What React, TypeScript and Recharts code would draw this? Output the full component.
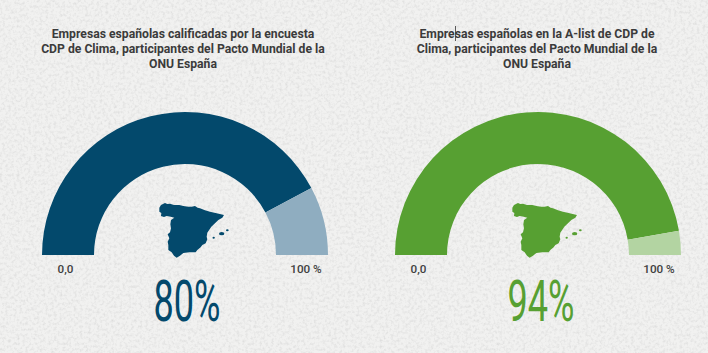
import React from "react";
import { PieChart, Pie, Cell } from "recharts";

const segments = ["Calificadas", "Resto"];
const leftValues = [84.5, 15.5];
const rightValues = [94.6, 5.4];
const leftColors = ["#03496c", "#8fadc0"];
const rightColors = ["#57a032", "#b3d4a2"];
const leftTitle = [
  "Empresas españolas calificadas por la encuesta",
  "CDP de Clima, participantes del Pacto Mundial de la",
  "ONU España",
];
const rightTitle = [
  "Empresas españolas en la A-list de CDP de",
  "Clima, participantes del Pacto Mundial de la",
  "ONU España",
];
const scaleMin = "0,0";
const scaleMax = "100 %";
const leftHeadline = "80%";
const rightHeadline = "94%";

const toRows = (values: number[]) => values.map((value, i) => ({ name: segments[i], value }));

const spainOutline =
  "M28 38 L33 30 L45 24 L52 27 L60 26 L72 30 L88 30 L100 33 L115 35 L125 35 L135 33 L143 38 L150 40 L165 46 L180 50 L200 55 L222 60 L217 68 L205 75 L195 85 L184 95 L179 103 L172 113 L170 125 L172 133 L167 145 L157 150 L152 157 L142 165 L137 172 L118 172 L100 174 L90 182 L80 188 L72 182 L65 172 L55 165 L55 150 L53 140 L58 130 L53 118 L60 112 L63 100 L61 88 L63 75 L73 68 L62 65 L50 63 L42 66 L33 63 L34 54 L28 50 Z";

function Spain({ x, y, color }: { x: number; y: number; color: string }) {
  return (
    <g transform={`translate(${x} ${y}) scale(0.3333)`} fill={color}>
      <path d={spainOutline} />
      <ellipse cx={215} cy={116} rx={8} ry={5} />
      <ellipse cx={232} cy={106} rx={4} ry={3} />
      <ellipse cx={191} cy={128} rx={3.5} ry={3} />
    </g>
  );
}

const titleStyle: React.CSSProperties = {
  fontFamily: "Roboto, sans-serif",
  fontWeight: 700,
  fontSize: 12.2,
  fill: "#3b3b3b",
};
const scaleStyle: React.CSSProperties = {
  fontFamily: "Roboto, sans-serif",
  fontWeight: 500,
  fontSize: 11.7,
  fill: "#3f3f3f",
};
const layer: React.CSSProperties = { position: "absolute", left: 0, top: 0 };

function Panel({
  title,
  titleX,
  minX,
  maxX,
  headline,
  headlineX,
  color,
  mapX,
}: {
  title: string[];
  titleX: number;
  minX: number;
  maxX: number;
  headline: string;
  headlineX: number;
  color: string;
  mapX: number;
}) {
  return (
    <g>
      {title.map((line, i) => (
        <text key={line} x={titleX} y={38 + i * 15} textAnchor="middle" style={titleStyle}>
          {line}
        </text>
      ))}
      <Spain x={mapX} y={195} color={color} />
      <text x={minX} y={273} textAnchor="middle" style={scaleStyle}>
        {scaleMin}
      </text>
      <text x={maxX} y={273} textAnchor="middle" style={scaleStyle}>
        {scaleMax}
      </text>
      <text
        x={headlineX}
        y={320.5}
        textAnchor="middle"
        textLength={67}
        lengthAdjust="spacingAndGlyphs"
        style={{ fontFamily: "Roboto, sans-serif", fontWeight: 400, fontSize: 57, fill: color }}
      >
        {headline}
      </text>
    </g>
  );
}

export default function App() {
  return (
    <div style={{ position: "absolute", left: 0, top: 0, width: 708, height: 353, overflow: "hidden", background: "#f1f1f0" }}>
      <svg width={708} height={353} style={layer}>
        <filter id="paper" x="0" y="0" width="100%" height="100%">
          <feTurbulence type="fractalNoise" baseFrequency="0.35" numOctaves={4} seed={7} />
          <feColorMatrix
            type="matrix"
            values="0 0 0 0 0.5  0 0 0 0 0.5  0 0 0 0 0.5  0 0 0 0.7 -0.3"
          />
        </filter>
        <rect width={708} height={353} filter="url(#paper)" />
      </svg>
      <div style={layer}>
        <PieChart width={708} height={353} margin={{ top: 0, right: 0, bottom: 0, left: 0 }}>
          <Pie
            data={toRows(leftValues)}
            dataKey="value"
            nameKey="name"
            cx={185}
            cy={255}
            startAngle={180}
            endAngle={0}
            innerRadius={91}
            outerRadius={143}
            stroke="none"
            isAnimationActive={false}
          >
            {leftColors.map((c) => (
              <Cell key={c} fill={c} />
            ))}
          </Pie>
          <Pie
            data={toRows(rightValues)}
            dataKey="value"
            nameKey="name"
            cx={538}
            cy={255}
            startAngle={180}
            endAngle={0}
            innerRadius={91}
            outerRadius={143}
            stroke="none"
            isAnimationActive={false}
          >
            {rightColors.map((c) => (
              <Cell key={c} fill={c} />
            ))}
          </Pie>
        </PieChart>
      </div>
      <svg width={708} height={353} style={layer}>
        <Panel
          title={leftTitle}
          titleX={183}
          minX={65.5}
          maxX={306}
          headline={leftHeadline}
          headlineX={187}
          color={leftColors[0]}
          mapX={150}
        />
        <Panel
          title={rightTitle}
          titleX={537}
          minX={418.5}
          maxX={659}
          headline={rightHeadline}
          headlineX={541}
          color={rightColors[0]}
          mapX={503}
        />
        <line x1={455.5} x2={455.5} y1={26} y2={41} stroke="#333" strokeWidth={0.8} />
      </svg>
    </div>
  );
}
